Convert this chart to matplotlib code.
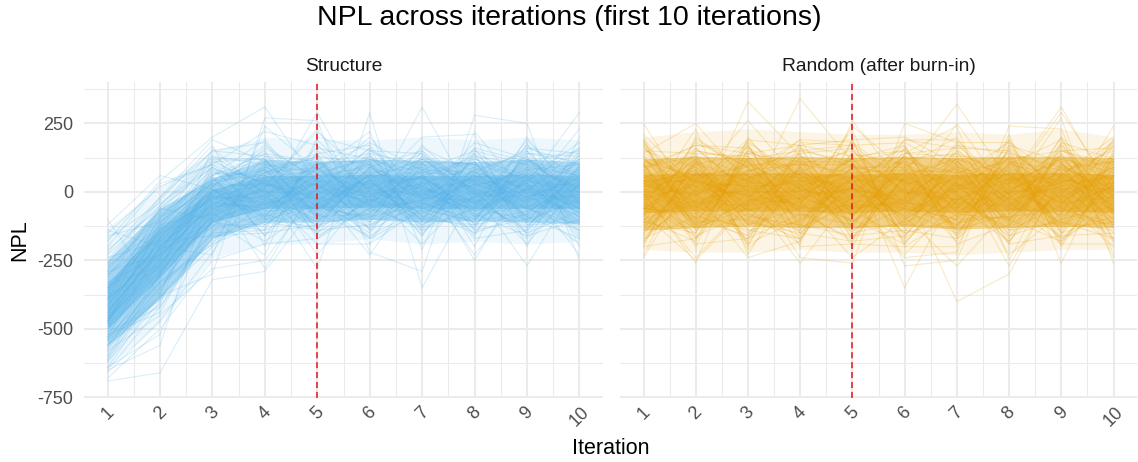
import numpy as np
import matplotlib.pyplot as plt

iterations = list(range(1, 11))
panel_titles = ["Structure", "Random (after burn-in)"]
line_colors = ["#56B4E9", "#E69F00"]
burn_in_iter = 5

# NPL per chain, one row per chain, one column per iteration
npl_structure = [
    [-420, -180, -20, 30, -50, 60, 10, -90, 40, 0],
    [-510, -260, -60, -10, 80, -20, 120, 30, -40, 70],
    [-350, -120, 40, 90, 20, -70, -30, 110, -100, 30],
    [-600, -330, -110, -60, -10, 40, -120, -20, 60, -80],
    [-280, -90, 60, 140, 110, 20, 50, -60, 10, 120],
    [-460, -210, 10, -100, -130, -40, 80, 70, 150, -30],
    [-390, -150, -80, 20, 60, 130, -60, -110, -70, 20],
    [-540, -300, -30, 50, -80, 90, 20, 140, -10, -140],
    [-170, -40, 90, -20, 30, -110, 150, 0, 90, 60],
    [-650, -420, -150, -140, 150, 10, -10, -40, -130, 90],
    [-430, -230, 20, 110, -30, -150, 100, 60, 30, -60],
    [-320, -60, 120, 0, -110, 70, -90, -130, 110, 150],
    [-480, -170, -50, 70, 90, -10, 30, 90, -50, -10],
    [-570, -380, -200, -30, 0, 160, -150, 20, 70, 40],
    [-250, -20, 150, 180, -60, -90, 60, -80, -160, -100],
    [-440, -200, -10, -80, 40, 30, -20, 180, 120, 10],
    [-680, -500, -250, -190, -170, -60, 170, -10, -20, 110],
    [-370, -110, 70, 60, 130, 100, -110, 50, -90, -170],
    [-520, -270, -90, 130, -20, -130, 0, -150, 50, 180],
    [-300, -140, 30, -50, 60, 50, 120, 100, 0, -40],
    [-460, -240, -40, 10, -150, -30, -70, -50, 170, 50],
    [-150, 20, 100, 220, 170, 0, 60, 110, -110, -20],
    [-410, -190, -120, -120, 10, 110, -40, -100, 80, 100],
    [-610, -350, -70, 40, -90, -80, 90, 10, -60, -120],
    [-360, -80, 50, -160, 100, 140, -130, 70, 20, 30],
    [-490, -220, -10, 80, -40, -170, 40, -170, -140, 140],
    [-230, -50, 130, 20, 220, 50, -160, 150, 100, -70],
    [-560, -310, -100, -40, -120, 80, 10, -30, -30, 80],
    [-400, -160, 0, 160, 50, -50, 130, 40, 130, -150],
    [-690, -660, -320, -290, -40, 20, -60, -20, 10, -60],
    [-330, -100, 80, -70, -60, 20, -100, -120, -80, 60],
    [-470, -250, -130, 100, 70, 120, 70, 120, 60, -50],
    [-540, -280, 10, -110, -140, -120, -50, 0, -170, 10],
    [-180, 40, 200, 310, 30, 200, -20, -60, 190, -10],
    [-450, -200, -30, 0, 30, -20, 20, -70, 0, -90],
    [-380, -130, 60, 120, -100, 90, -20, 80, 140, 130],
    [-620, -400, -170, -90, 120, -100, 110, -140, -100, -30],
    [-290, -70, 110, 30, -30, 30, -80, 30, 40, 160],
    [-500, -290, -60, -130, 140, -140, 50, 130, -120, -110],
    [-420, -170, 40, 60, -70, 60, -140, -60, 80, 20],
    [-260, -30, 170, -200, 200, 150, 140, -90, -50, -190],
    [-530, -330, -190, 90, -160, -60, -30, 160, 110, 70],
    [-350, -150, -20, -20, 80, 180, 80, -20, -150, -70],
    [-580, -450, -280, -250, 10, -230, 40, -230, 20, -230],
    [-440, -210, 20, 140, 0, -30, 0, 50, 160, 100],
    [-120, 60, 10, -40, 290, -50, 310, -40, 30, 290],
    [-640, -520, -90, 10, -280, 290, -350, 0, -270, 40],
    [-160, -110, 30, -280, 40, -10, -90, 70, 10, 0],
    [-390, -230, -50, 40, -230, 10, 200, 210, -200, 200],
    [-470, -130, 90, -90, 110, -190, -60, -110, 200, -40],
    [-450, -240, -40, -60, 60, 90, -30, 40, -20, 50],
    [-530, -200, 20, 30, -20, -60, 60, -90, 90, -30],
    [-380, -280, -90, -10, 100, 10, -80, 60, -60, 90],
    [-600, -310, 50, 80, -90, 40, 120, -10, 30, -110],
    [-480, -160, -20, -90, 40, -120, -10, 110, -90, 40],
    [-330, -230, 70, 40, -70, 120, 50, -40, 120, -10],
    [-560, -350, -150, 110, 20, -20, -120, 30, -30, 130],
    [-420, -90, 0, -30, -110, 70, 90, -120, 60, -60],
    [-240, -180, -70, 70, 130, -90, -50, 80, -120, 20],
    [-510, -420, -110, -140, -40, 130, 20, -70, 10, -90],
    [-460, -270, 30, 20, 90, -30, -100, 130, 100, 60],
    [-390, -120, 110, 120, -60, 60, 140, 0, -60, -140],
    [-580, -300, -50, -70, 70, -140, -40, -110, 140, 110],
    [-350, -210, -130, 50, -130, 20, 70, 60, -10, -20],
    [-640, -370, 10, -120, 10, 160, -20, -30, -140, 30],
    [-440, -140, -30, 90, 120, -70, 110, 100, 50, -80],
    [-210, -60, 90, 0, -10, 100, -70, -150, -80, 150],
    [-550, -330, -180, -100, 50, -10, 30, 20, 80, -40],
    [-470, -250, 40, 150, -150, 50, -130, -60, -100, 70],
    [-300, -170, -10, -50, 90, -110, 80, 150, 30, -120],
    [-520, -440, -100, 60, -30, 80, -90, -20, 110, 0],
    [-400, -190, 60, -160, 20, -40, 160, 70, -40, 120],
    [-620, -360, -60, 10, 160, 120, 0, -80, 70, -50],
    [-370, -100, 130, 100, -80, -160, -60, 40, -130, 80],
    [-490, -260, -20, -40, -20, 30, 50, -130, 150, -100],
    [-270, -130, 20, 170, 40, -50, -140, 90, 0, 160],
    [-540, -390, -140, -80, -140, 140, 100, 10, -50, -60],
    [-430, -220, 80, 50, 80, 0, -40, 120, 40, 20],
    [-590, -320, -80, -180, -50, -100, 130, -50, 90, -160],
    [-310, -50, 150, 130, 110, 110, -110, 160, -110, 90],
    [-460, -290, -110, -20, -100, -30, 20, -100, 120, -20],
    [-660, -470, -220, 40, 60, 70, -160, 100, -70, 40],
    [-360, -150, 50, -100, -50, -130, 70, -140, 20, -130],
    [-500, -240, 0, 70, 140, 170, -30, 30, -150, 100],
    [-410, -180, -160, -150, -120, -80, 120, -10, 100, 10],
    [-560, -410, 100, 30, 0, 40, -100, 80, -20, -70],
    [-220, -20, 190, 110, -170, -20, 60, -160, 160, 140],
    [-480, -200, -40, -60, 50, 100, -10, 50, -30, -10],
    [-340, -270, 60, 190, -40, -110, 10, -40, 60, -170],
    [-610, -340, -190, -110, 110, -60, -130, 140, -160, 60],
    [-450, -110, 30, 80, -130, 90, 150, -70, 130, -40],
    [-290, -230, -50, -50, 30, -170, -70, 60, -90, 120],
    [-530, -380, 120, 120, -90, 150, 80, -120, 50, -110],
    [-390, -60, -100, -230, 190, 0, -190, 10, -190, 30],
    [-570, -300, 160, -10, -190, -190, 110, -200, 180, -200],
    [-140, -200, -230, 240, 80, 220, -210, 220, -10, 230],
    [-650, -560, 20, -90, -40, 40, 50, 40, 20, -60],
    [-470, -120, -80, 20, 230, -50, -40, 60, -20, 50],
    [-200, 30, 100, -30, -60, 60, 70, -250, 70, -40],
    [-100, -380, -300, 270, 260, -220, -290, 280, 250, -250],
]

npl_random = [
    [10, -60, 80, -30, 40, -100, 20, 60, -20, 90],
    [-120, 40, -20, 110, -80, 30, -140, 10, 70, -50],
    [150, 90, -70, 20, 120, -40, 60, -110, 140, 0],
    [-40, -150, 130, -90, -10, 160, -50, 100, -60, -130],
    [70, 20, 30, 170, -140, -20, 110, -30, 20, 60],
    [-180, 110, -120, 50, 70, 80, -10, -160, -100, 120],
    [30, -20, 170, -140, 20, -150, 150, 40, 110, -80],
    [-90, 160, 0, 80, -170, 50, -90, 130, -150, 30],
    [200, -100, -160, 10, 100, -90, 30, -70, 50, 160],
    [-10, 60, 60, -60, -50, 120, -170, 170, -10, -170],
    [100, -120, -40, 140, 160, -130, 80, -120, 90, 10],
    [-140, 0, 110, -10, -110, 10, -30, 50, -130, 130],
    [50, 130, -100, -170, 50, 140, 130, -10, 170, -20],
    [-60, -80, 50, 120, -30, -60, -120, 90, -40, 80],
    [130, 40, -30, -40, 140, 100, 0, -180, 10, -110],
    [-200, -170, 150, 60, -70, -170, 170, 20, 130, 40],
    [0, 80, -140, -110, 90, 60, -60, 150, -170, -60],
    [80, -40, 20, 30, -150, -110, 100, -50, 60, 180],
    [-110, 190, 90, -150, 30, 170, -150, 0, -70, -30],
    [170, -130, -60, 90, -20, -10, 50, 120, 150, 100],
    [-30, 30, 190, 170, 130, -170, -20, -140, -110, -140],
    [110, -190, -170, -80, -120, 120, 140, 70, 40, 50],
    [-160, 100, 40, 0, 60, -50, -100, -90, 180, -90],
    [40, -10, -110, 150, 170, 30, 60, 180, -150, 150],
    [-70, 150, 120, -120, -160, -140, -170, -20, 100, -10],
    [250, -50, 10, 40, -90, 90, 20, 80, -50, 20],
    [-240, 70, -50, -20, 10, -30, 120, -160, 0, -180],
    [60, -110, 140, 110, 110, 150, -80, 30, 120, 70],
    [-20, 120, -190, -100, -40, -80, 90, -100, -180, -40],
    [120, -70, 70, 190, 180, 40, -130, 110, 80, 110],
    [-130, 10, -10, -50, -100, -190, 30, -60, -80, -120],
    [90, 170, 160, 70, 0, 190, 160, 150, 20, 170],
    [-50, -160, -80, -160, 150, 0, -40, -130, 160, -70],
    [20, 50, 100, 100, -130, -120, 70, 60, -120, 30],
    [-100, -30, -150, 20, 80, 110, -160, 0, 30, -150],
    [140, 250, 30, -70, -180, -160, 40, -190, -160, 120],
    [-170, -90, 330, 130, 40, 70, 320, 40, 310, -20],
    [-10, -240, -40, 340, 110, -350, 10, 190, -30, -200],
    [180, 0, -240, -180, 260, 20, -400, -300, 60, 200],
    [-200, 200, 60, -240, -260, 250, 180, -40, -190, 60],
    [100, -200, 180, 60, -40, -240, -220, 240, 230, -230],
    [-80, 80, -10, -130, 190, 200, 100, -230, -80, 240],
    [30, -50, 80, 50, -60, -40, -60, 100, 60, -100],
    [-230, 140, -200, 160, 90, 90, 200, -80, 200, 0],
    [190, -140, 120, -200, -190, -200, -200, 160, -200, 90],
    [-60, 230, -230, 90, -200, 140, 240, -250, 110, -240],
    [0, -260, 200, -30, 230, -270, -250, 210, -260, 140],
    [210, 20, -10, -260, -10, -30, 250, -10, 270, -260],
    [60, -40, -50, 80, -30, 70, -60, 20, -90, 40],
    [-90, 110, 40, -60, 90, -80, 20, -100, 60, -30],
    [130, -60, 100, 10, -110, 20, 120, 60, -40, 100],
    [-20, 20, -90, -120, 60, -110, -40, -50, 130, -70],
    [40, -120, 150, 60, 0, 110, 70, 110, 10, 10],
    [-150, 70, -20, 120, -60, -30, -120, -20, -110, 140],
    [90, 130, 60, -40, 130, 150, 0, 140, 90, -120],
    [-60, -90, -130, 30, -140, -60, 150, -130, -20, 70],
    [160, 30, 20, -100, 40, 40, -90, 0, 120, -40],
    [-110, -150, 120, 150, 110, -160, 40, 90, -140, 110],
    [20, 90, -70, -20, -80, 90, -140, -80, 40, -100],
    [-170, -10, 80, 100, 150, -10, 90, 40, -60, 20],
    [110, 60, -110, -150, -20, 130, -10, -150, 150, 160],
    [-40, -130, 30, 40, 70, -130, 130, 120, -100, -50],
    [150, 140, 130, -80, -170, 60, -70, 10, 80, 50],
    [-80, -50, -160, 130, 30, -90, 60, -40, -160, -150],
    [0, 160, 0, 0, 120, 170, -160, 160, 0, 90],
    [70, -100, 170, -130, -50, -40, 100, -110, 100, -20],
    [-130, 50, -40, 70, 160, 0, -30, 70, -120, 170],
    [190, -170, 70, 160, -130, 140, 160, -60, 140, -130],
    [-190, 120, -120, -60, 20, -150, -100, 130, -30, 60],
    [120, 0, 50, 110, -90, 100, 30, -170, 170, -80],
    [-10, -70, -140, -170, 100, -70, -150, 50, 30, 130],
    [80, 170, 140, 50, -150, 50, 140, -10, -170, -10],
    [-160, -30, 10, -90, 50, -180, -20, 170, 110, -170],
    [30, 80, -180, 180, 170, 180, 80, -140, -50, 180],
    [-100, -180, 160, 10, -40, 10, -180, 100, 190, -60],
    [140, 40, -80, -140, 80, -100, 110, -30, -130, 10],
    [-50, 180, 90, 140, -170, 160, -50, -180, 70, 150],
    [100, -140, -30, -10, 10, -20, 170, 140, -190, -190],
    [-180, 10, 180, -180, 140, -140, 10, 30, 150, 80],
    [50, -110, -100, 90, -110, 80, -110, -90, -70, -110],
    [-140, 150, 110, -110, 60, -50, 180, 180, 50, 0],
    [170, -80, -170, 40, -10, 130, -190, -120, -10, 190],
    [-70, 100, 140, 170, 190, -190, 50, 80, -150, -90],
    [10, -170, 0, -150, -180, 60, 120, -190, 180, 120],
    [-120, 60, -190, 100, 100, -120, -130, 190, -110, -170],
    [180, -120, 190, 20, -70, 190, 190, 0, 10, 30],
    [-30, 120, -60, -190, 190, -200, -80, -100, 200, -180],
    [130, -100, 40, 190, -90, 130, 20, 120, -180, 60],
    [-110, 110, -210, -20, 100, 40, 130, -100, 90, 110],
    [80, -130, 130, 10, -30, -230, -30, 110, -130, -110],
    [-150, 40, 20, -50, 240, 80, 70, -270, 40, 30],
    [40, 40, 260, 40, 30, -60, -100, 50, -40, -20],
    [-80, -250, -50, 100, 70, 40, -30, -20, 70, -50],
    [40, 60, 90, -30, -240, -100, 10, 70, -80, 190],
    [-60, 70, -70, 70, 10, -90, -270, -60, 50, -70],
    [20, -10, 50, -70, -80, 70, 80, 30, 290, 10],
]

# where the chains pile up at each iteration: wide spread, main body, centre
structure_spread_lo = [-640, -480, -240, -190, -190, -170, -190, -180, -190, -180]
structure_spread_hi = [-130, 20, 150, 200, 190, 190, 200, 190, 200, 190]
structure_core_lo = [-560, -390, -170, -110, -110, -100, -110, -105, -110, -115]
structure_core_hi = [-250, -60, 50, 120, 110, 120, 115, 110, 120, 110]
structure_centre_lo = [-500, -310, -110, -60, -60, -55, -60, -60, -60, -60]
structure_centre_hi = [-330, -130, 10, 60, 60, 65, 60, 60, 65, 60]

random_spread_lo = [-210, -220, -220, -210, -220, -220, -230, -220, -210, -210]
random_spread_hi = [200, 220, 230, 220, 210, 210, 220, 210, 230, 200]
random_core_lo = [-140, -130, -125, -130, -130, -125, -135, -130, -125, -130]
random_core_hi = [120, 130, 125, 130, 125, 130, 125, 130, 130, 125]
random_centre_lo = [-75, -70, -70, -70, -75, -70, -75, -70, -70, -75]
random_centre_hi = [65, 70, 70, 70, 65, 70, 65, 70, 70, 65]

y_ticks = [-750, -500, -250, 0, 250]

plt.rcParams['font.family'] = ['Liberation Sans', 'DejaVu Sans']
plt.rcParams['axes.unicode_minus'] = False

fig = plt.figure(figsize=(11.38, 4.62), dpi=100)
W, H = 1138, 462
boxes = [(84, 82, 603, 398), (620, 82, 1137, 398)]

panels = [
    (npl_structure, [(structure_spread_lo, structure_spread_hi, 0.1),
                     (structure_core_lo, structure_core_hi, 0.42),
                     (structure_centre_lo, structure_centre_hi, 0.45)]),
    (npl_random, [(random_spread_lo, random_spread_hi, 0.1),
                  (random_core_lo, random_core_hi, 0.42),
                  (random_centre_lo, random_centre_hi, 0.45)]),
]

for k, (data, bands) in enumerate(panels):
    color = line_colors[k]
    x0, y0, x1, y1 = boxes[k]
    ax = fig.add_axes([x0 / W, 1 - y1 / H, (x1 - x0) / W, (y1 - y0) / H])
    ax.set_xlim(0.55, 10.45)
    ax.set_ylim(-752, 401)

    # grid: major at ticks, minor halfway between
    for x in iterations:
        ax.axvline(x, color='#EBEBEB', lw=1.5, zorder=0)
    for x in np.arange(1.5, 10, 1):
        ax.axvline(x, color='#EBEBEB', lw=0.75, zorder=0)
    for y in y_ticks:
        ax.axhline(y, color='#EBEBEB', lw=1.5, zorder=0)
    for y in [-625, -375, -125, 125, 375]:
        ax.axhline(y, color='#EBEBEB', lw=0.75, zorder=0)

    for lo, hi, a in bands:
        ax.fill_between(iterations, lo, hi, color=color, alpha=a, lw=0, zorder=1)
    for row in data:
        ax.plot(iterations, row, color=color, lw=0.8, alpha=0.22, zorder=2)

    ax.axvline(burn_in_iter, color='#E3141B', lw=1.1, ls=(0, (4, 2.5)), zorder=3)

    for s in ax.spines.values():
        s.set_visible(False)
    ax.set_xticks(iterations)
    ax.set_xticklabels([str(i) for i in iterations], rotation=45, ha='center')
    ax.set_yticks(y_ticks)
    ax.tick_params(length=0, labelsize=13, labelcolor='#4D4D4D', pad=4)
    ax.tick_params(axis='y', pad=8)
    if k > 0:
        ax.set_yticklabels([])
    ax.set_title(panel_titles[k], fontsize=13.8, color='#1A1A1A', pad=8)

fig.text(0.5, 1 - 18 / H, "NPL across iterations (first 10 iterations)",
         ha='center', va='center', fontsize=20.5)
fig.text(611 / W, 1 - 449 / H, "Iteration", ha='center', va='center', fontsize=15.5)
fig.text(20 / W, 1 - 240 / H, "NPL", ha='center', va='center', rotation=90, fontsize=15.5)

fig.savefig("out.png", dpi=100)
